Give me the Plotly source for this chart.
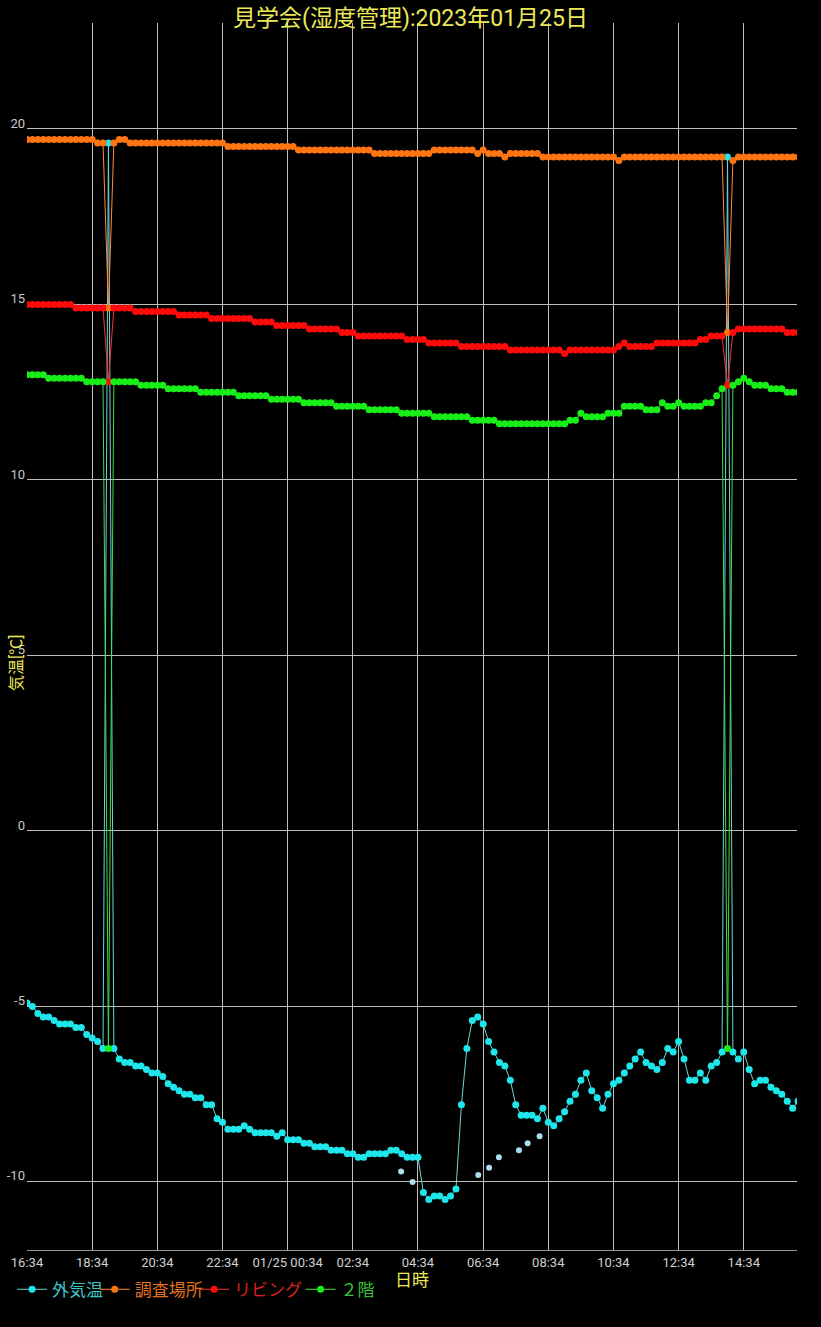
import pandas as pd
import plotly.graph_objects as go

# ---------------- data ----------------
start = pd.Timestamp("2023-01-24 16:34")
n_points = 143
times = pd.date_range(start, periods=n_points, freq="10min")

outside = [
    -4.9, -5.0, -5.2, -5.3, -5.3, -5.4, -5.5, -5.5, -5.5, -5.6,
    -5.6, -5.8, -5.9, -6.0, -6.2, 19.6, -6.2, -6.5, -6.6, -6.6,
    -6.7, -6.7, -6.8, -6.9, -6.9, -7.0, -7.2, -7.3, -7.4, -7.5,
    -7.5, -7.6, -7.6, -7.8, -7.8, -8.2, -8.3, -8.5, -8.5, -8.5,
    -8.4, -8.5, -8.6, -8.6, -8.6, -8.6, -8.7, -8.6, -8.8, -8.8,
    -8.8, -8.9, -8.9, -9.0, -9.0, -9.0, -9.1, -9.1, -9.1, -9.2,
    -9.2, -9.3, -9.3, -9.2, -9.2, -9.2, -9.2, -9.1, -9.1, -9.2,
    -9.3, -9.3, -9.3, -10.3, -10.5, -10.4, -10.4, -10.5, -10.4, -10.2,
    -7.8, -6.2, -5.4, -5.3, -5.5, -6.0, -6.3, -6.6, -6.7, -7.1,
    -7.8, -8.1, -8.1, -8.1, -8.2, -7.9, -8.3, -8.4, -8.2, -8.0,
    -7.7, -7.5, -7.1, -6.9, -7.4, -7.6, -7.9, -7.5, -7.2, -7.1,
    -6.9, -6.7, -6.5, -6.3, -6.6, -6.7, -6.8, -6.6, -6.2, -6.3,
    -6.0, -6.5, -7.1, -7.1, -6.9, -7.1, -6.7, -6.6, -6.3, 19.2,
    -6.3, -6.5, -6.3, -6.8, -7.2, -7.1, -7.1, -7.3, -7.4, -7.5,
    -7.7, -7.9, -7.7,
]

survey = [
    19.7, 19.7, 19.7, 19.7, 19.7, 19.7, 19.7, 19.7, 19.7, 19.7,
    19.7, 19.7, 19.7, 19.6, 19.6, 14.9, 19.6, 19.7, 19.7, 19.6,
    19.6, 19.6, 19.6, 19.6, 19.6, 19.6, 19.6, 19.6, 19.6, 19.6,
    19.6, 19.6, 19.6, 19.6, 19.6, 19.6, 19.6, 19.5, 19.5, 19.5,
    19.5, 19.5, 19.5, 19.5, 19.5, 19.5, 19.5, 19.5, 19.5, 19.5,
    19.4, 19.4, 19.4, 19.4, 19.4, 19.4, 19.4, 19.4, 19.4, 19.4,
    19.4, 19.4, 19.4, 19.4, 19.3, 19.3, 19.3, 19.3, 19.3, 19.3,
    19.3, 19.3, 19.3, 19.3, 19.3, 19.4, 19.4, 19.4, 19.4, 19.4,
    19.4, 19.4, 19.4, 19.3, 19.4, 19.3, 19.3, 19.3, 19.2, 19.3,
    19.3, 19.3, 19.3, 19.3, 19.3, 19.2, 19.2, 19.2, 19.2, 19.2,
    19.2, 19.2, 19.2, 19.2, 19.2, 19.2, 19.2, 19.2, 19.2, 19.1,
    19.2, 19.2, 19.2, 19.2, 19.2, 19.2, 19.2, 19.2, 19.2, 19.2,
    19.2, 19.2, 19.2, 19.2, 19.2, 19.2, 19.2, 19.2, 19.2, 14.2,
    19.1, 19.2, 19.2, 19.2, 19.2, 19.2, 19.2, 19.2, 19.2, 19.2,
    19.2, 19.2, 19.2,
]

living = [
    15.0, 15.0, 15.0, 15.0, 15.0, 15.0, 15.0, 15.0, 15.0, 14.9,
    14.9, 14.9, 14.9, 14.9, 14.9, 12.8, 14.9, 14.9, 14.9, 14.9,
    14.8, 14.8, 14.8, 14.8, 14.8, 14.8, 14.8, 14.8, 14.7, 14.7,
    14.7, 14.7, 14.7, 14.7, 14.6, 14.6, 14.6, 14.6, 14.6, 14.6,
    14.6, 14.6, 14.5, 14.5, 14.5, 14.5, 14.4, 14.4, 14.4, 14.4,
    14.4, 14.4, 14.3, 14.3, 14.3, 14.3, 14.3, 14.3, 14.2, 14.2,
    14.2, 14.1, 14.1, 14.1, 14.1, 14.1, 14.1, 14.1, 14.1, 14.1,
    14.0, 14.0, 14.0, 14.0, 13.9, 13.9, 13.9, 13.9, 13.9, 13.9,
    13.8, 13.8, 13.8, 13.8, 13.8, 13.8, 13.8, 13.8, 13.8, 13.7,
    13.7, 13.7, 13.7, 13.7, 13.7, 13.7, 13.7, 13.7, 13.7, 13.6,
    13.7, 13.7, 13.7, 13.7, 13.7, 13.7, 13.7, 13.7, 13.7, 13.8,
    13.9, 13.8, 13.8, 13.8, 13.8, 13.8, 13.9, 13.9, 13.9, 13.9,
    13.9, 13.9, 13.9, 13.9, 14.0, 14.0, 14.1, 14.1, 14.1, 12.7,
    14.2, 14.3, 14.3, 14.3, 14.3, 14.3, 14.3, 14.3, 14.3, 14.3,
    14.2, 14.2, 14.2,
]

second_floor = [
    13.0, 13.0, 13.0, 13.0, 12.9, 12.9, 12.9, 12.9, 12.9, 12.9,
    12.9, 12.8, 12.8, 12.8, 12.8, -6.2, 12.8, 12.8, 12.8, 12.8,
    12.8, 12.7, 12.7, 12.7, 12.7, 12.7, 12.6, 12.6, 12.6, 12.6,
    12.6, 12.6, 12.5, 12.5, 12.5, 12.5, 12.5, 12.5, 12.5, 12.4,
    12.4, 12.4, 12.4, 12.4, 12.4, 12.3, 12.3, 12.3, 12.3, 12.3,
    12.3, 12.2, 12.2, 12.2, 12.2, 12.2, 12.2, 12.1, 12.1, 12.1,
    12.1, 12.1, 12.1, 12.0, 12.0, 12.0, 12.0, 12.0, 12.0, 11.9,
    11.9, 11.9, 11.9, 11.9, 11.9, 11.8, 11.8, 11.8, 11.8, 11.8,
    11.8, 11.8, 11.7, 11.7, 11.7, 11.7, 11.7, 11.6, 11.6, 11.6,
    11.6, 11.6, 11.6, 11.6, 11.6, 11.6, 11.6, 11.6, 11.6, 11.6,
    11.7, 11.7, 11.9, 11.8, 11.8, 11.8, 11.8, 11.9, 11.9, 11.9,
    12.1, 12.1, 12.1, 12.1, 12.0, 12.0, 12.0, 12.2, 12.1, 12.1,
    12.2, 12.1, 12.1, 12.1, 12.1, 12.2, 12.2, 12.4, 12.6, -6.2,
    12.7, 12.8, 12.9, 12.8, 12.7, 12.7, 12.7, 12.6, 12.6, 12.6,
    12.5, 12.5, 12.5,
]

# separate light-blue points (no line, not in legend)
extra_times = ["2023-01-25 04:03", "2023-01-25 04:24", "2023-01-25 06:25", "2023-01-25 06:45",
               "2023-01-25 07:03", "2023-01-25 07:40", "2023-01-25 07:56", "2023-01-25 08:18"]
extra_values = [-9.7, -10.0, -9.8, -9.6, -9.3, -9.1, -8.9, -8.7]

series_names = ["外気温", "調査場所", "リビング", "２階"]
marker_colors = ["#1ee6ea", "#ff7512", "#ff0a0a", "#18ee18"]
line_colors = ["#70d4d6", "#ff8a3a", "#ff3030", "#40e040"]
legend_colors = ["#3cc8c8", "#e0701e", "#d82020", "#38c038"]
legend_ids = ["legend", "legend2", "legend3", "legend4"]
legend_x = [-0.0194, 0.0879, 0.217, 0.3553]

tick_times = pd.date_range(start, periods=12, freq="2h")
tick_text = ["16:34", "18:34", "20:34", "22:34", "01/25 00:34", "02:34",
             "04:34", "06:34", "08:34", "10:34", "12:34", "14:34"]
y_ticks = [-10, -5, 0, 5, 10, 15, 20]
y_tick_text = ["-10", "-5", "0", "5", "10", "15", "20"]

FONT = "Roboto, 'Noto Sans CJK JP', sans-serif"
YELLOW = "#ece85a"

# ---------------- figure ----------------
fig = go.Figure()
for name, vals, mc, lc, tc, lid in zip(series_names, [outside, survey, living, second_floor],
                                        marker_colors, line_colors, legend_colors, legend_ids):
    fig.add_trace(go.Scatter(
        x=times, y=vals, mode="lines+markers",
        name=f'<span style="color:{tc}">{name}</span>',
        line=dict(color=lc, width=1),
        marker=dict(color=mc, size=7, line=dict(width=0)),
        legend=lid,
    ))

fig.add_trace(go.Scatter(
    x=pd.to_datetime(extra_times), y=extra_values, mode="markers",
    marker=dict(color="#a9dcec", size=6, line=dict(width=0)),
    showlegend=False,
))

legend_layouts = {}
for lid, lx in zip(legend_ids, legend_x):
    legend_layouts[lid] = dict(
        orientation="h", x=lx, xanchor="left", y=-0.0177, yanchor="top",
        font=dict(family=FONT, size=17), bgcolor="rgba(0,0,0,0)",
        itemwidth=30,
    )

fig.update_layout(
    width=821, height=1327,
    paper_bgcolor="black", plot_bgcolor="black",
    margin=dict(l=23, r=24, t=23, b=77),
    font=dict(family=FONT, color="#cccccc"),
    title=dict(text="見学会(湿度管理):2023年01月25日", x=0.5, xanchor="center",
               y=0.9865, yanchor="middle", yref="container",
               font=dict(family=FONT, size=23, color=YELLOW)),
    showlegend=True,
    **legend_layouts,
    xaxis=dict(
        type="date",
        range=[start, start + pd.Timedelta(minutes=1418)],
        tickvals=tick_times, ticktext=tick_text,
        showgrid=True, gridcolor="#bdbdbd", gridwidth=1,
        showline=True, linecolor="#9a9a9a", linewidth=1,
        ticks="", zeroline=False,
        tickfont=dict(family=FONT, size=13, color="#d0d0d0"),
        title=dict(text="日時", font=dict(family=FONT, size=17, color=YELLOW), standoff=1),
        automargin=False,
    ),
    yaxis=dict(
        range=[-11.94, 23.02],
        tickvals=y_ticks, ticktext=y_tick_text,
        showgrid=True, gridcolor="#bdbdbd", gridwidth=1,
        zeroline=False, showline=False, ticks="",
        tickfont=dict(family=FONT, size=13, color="#c8c8c8"),
        ticklabelshift=-6, ticklabelstandoff=1,
        automargin=False,
    ),
    annotations=[dict(
        text="気温[℃]", textangle=-90, xref="paper", yref="paper",
        x=0, xshift=-11, xanchor="center", y=(1250 - 663) / 1227, yanchor="middle",
        showarrow=False, font=dict(family=FONT, size=16, color=YELLOW),
    )],
)

fig.write_html(
    "out.html",
    config={"displayModeBar": False},
    post_script="document.body.style.margin='0';document.body.style.padding='0';"
                "document.body.style.overflow='hidden';",
)
